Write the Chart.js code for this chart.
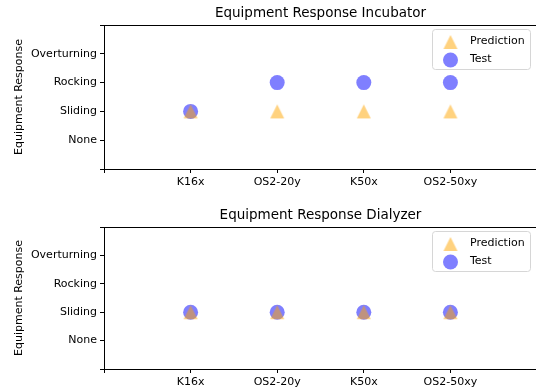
<!DOCTYPE html>
<html>
<head>
<meta charset="utf-8">
<script src="https://cdn.jsdelivr.net/npm/chart.js@4/dist/chart.umd.min.js"></script>
<style>
  html, body { margin: 0; padding: 0; background: #fff; overflow: hidden; width: 536px; height: 392px; }
  canvas.chart { position: absolute; left: 0; }
  #top { top: 0; }
  #bottom { top: 202px; }
</style>
</head>
<body>
<canvas class="chart" id="top" width="545" height="196"></canvas>
<canvas class="chart" id="bottom" width="545" height="190"></canvas>
<script>
var categories = ["K16x", "OS2-20y", "K50x", "OS2-50xy"];
var responseLevels = ["None", "Sliding", "Rocking", "Overturning"];

var incubatorPrediction = ["Sliding", "Sliding", "Sliding", "Sliding"];
var incubatorTest = ["Sliding", "Rocking", "Rocking", "Rocking"];

var dialyzerPrediction = ["Sliding", "Sliding", "Sliding", "Sliding"];
var dialyzerTest = ["Sliding", "Sliding", "Sliding", "Sliding"];

Chart.defaults.font.family = "'DejaVu Sans', sans-serif";
Chart.defaults.color = "#000";

// matplotlib-like "^" marker (tip and base equally far from centre)
var triMarker = document.createElement("canvas");
triMarker.width = 16;
triMarker.height = 16;
(function () {
  var c = triMarker.getContext("2d");
  c.fillStyle = "rgba(255,165,0,0.5)";
  c.beginPath();
  c.moveTo(8, 1);
  c.lineTo(15, 15);
  c.lineTo(1, 15);
  c.closePath();
  c.fill();
})();

function toPoints(values) {
  return values.map(function (v, i) {
    return { x: i + 1, y: responseLevels.indexOf(v) + 1 };
  });
}

// title over the axes, top/right spines, legend box like matplotlib
var framePlugin = {
  id: "frame",
  afterDraw: function (chart, args, opts) {
    var ctx = chart.ctx, a = chart.chartArea;
    ctx.save();
    ctx.fillStyle = "#000";
    ctx.font = "13.5px 'DejaVu Sans'";
    ctx.textAlign = "center";
    ctx.textBaseline = "middle";
    ctx.fillText(opts.title, (a.left + a.right) / 2, a.top - 11.5);

    ctx.strokeStyle = "#000";
    ctx.lineWidth = 1;
    ctx.beginPath();
    ctx.moveTo(a.left, a.top + 0.5);
    ctx.lineTo(a.right, a.top + 0.5);
    ctx.moveTo(a.right - 0.5, a.top);
    ctx.lineTo(a.right - 0.5, a.bottom);
    ctx.stroke();

    var w = 98, h = 40;
    var bx = a.right - 7 - w, by = a.top + 4;
    ctx.fillStyle = "rgba(255,255,255,0.8)";
    ctx.strokeStyle = "#d6d6d6";
    ctx.beginPath();
    ctx.roundRect(bx + 0.5, by + 0.5, w, h, 3);
    ctx.fill();
    ctx.stroke();

    ctx.font = "11px 'DejaVu Sans'";
    ctx.textAlign = "left";
    chart.data.datasets.forEach(function (ds, i) {
      var mx = bx + 18.5, my = by + 13 + i * 18;
      if (ds.pointStyle === triMarker) {
        ctx.drawImage(triMarker, mx - 8, my - 8);
      } else {
        ctx.fillStyle = ds.backgroundColor;
        ctx.beginPath();
        ctx.arc(mx, my, ds.pointRadius, 0, Math.PI * 2);
        ctx.fill();
      }
      ctx.fillStyle = "#000";
      ctx.fillText(ds.label, bx + 38, my - 1);
    });
    ctx.restore();
  }
};

function makeChart(id, title, prediction, test, axisHeight) {
  return new Chart(document.getElementById(id), {
    type: "scatter",
    data: {
      datasets: [
        {
          label: "Prediction",
          data: toPoints(prediction),
          pointStyle: triMarker,
          pointRadius: 8,
          pointHoverRadius: 8,
          backgroundColor: "rgba(255,165,0,0.5)",
          borderWidth: 0
        },
        {
          label: "Test",
          data: toPoints(test),
          pointStyle: "circle",
          pointRadius: 7.5,
          pointHoverRadius: 7.5,
          backgroundColor: "rgba(0,0,255,0.5)",
          borderWidth: 0
        }
      ]
    },
    options: {
      responsive: false,
      animation: false,
      layout: { padding: { left: 0, right: 6, top: 25, bottom: 0 } },
      plugins: {
        legend: { display: false },
        tooltip: { enabled: false },
        title: { display: false },
        frame: { title: title }
      },
      scales: {
        x: {
          type: "linear",
          min: 0,
          max: 5,
          afterFit: function (s) { s.height = axisHeight; },
          border: { display: true, color: "#000", width: 1 },
          grid: { drawOnChartArea: false, drawTicks: true, tickLength: 4, color: "#000" },
          ticks: {
            stepSize: 1,
            autoSkip: false,
            maxRotation: 0,
            padding: 3,
            font: { size: 11 },
            callback: function (v) { return categories[v - 1] || ""; }
          }
        },
        y: {
          type: "linear",
          min: 0,
          max: 5,
          afterFit: function (s) { s.width = 104; },
          border: { display: true, color: "#000", width: 1 },
          grid: { drawOnChartArea: false, drawTicks: true, tickLength: 4, color: "#000" },
          title: {
            display: true,
            text: "Equipment Response",
            font: { size: 11 },
            padding: { top: 13, bottom: 0 }
          },
          ticks: {
            stepSize: 1,
            autoSkip: false,
            padding: 3,
            font: { size: 11 },
            callback: function (v) { return responseLevels[v - 1] || ""; }
          }
        }
      }
    },
    plugins: [framePlugin]
  });
}

makeChart("top", "Equipment Response Incubator", incubatorPrediction, incubatorTest, 27);
makeChart("bottom", "Equipment Response Dialyzer", dialyzerPrediction, dialyzerTest, 23);
</script>
</body>
</html>
